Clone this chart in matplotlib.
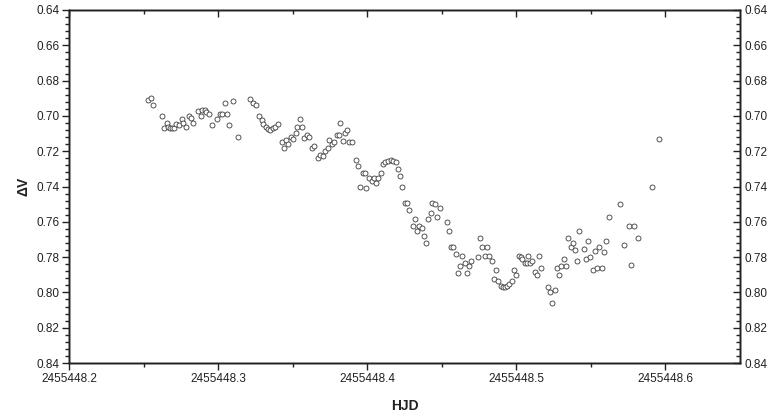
import matplotlib
matplotlib.use("Agg")
import matplotlib.pyplot as plt
from matplotlib.ticker import MultipleLocator, AutoMinorLocator, FormatStrFormatter

plt.rcParams['font.family'] = ['Liberation Sans', 'DejaVu Sans']

HJD0 = 2455448.0
# HJD offsets from 2455448.0
hjd_offset = [
    0.2530, 0.2553, 0.2564, 0.2624, 0.2654, 0.2637, 0.2664, 0.2680, 0.2691, 0.2704,
    0.2720, 0.2738, 0.2756, 0.2763, 0.2783, 0.2805, 0.2818, 0.2831, 0.2868, 0.2883,
    0.2890, 0.2910, 0.2921, 0.2938, 0.2957, 0.2995, 0.3010, 0.3028, 0.3043, 0.3059,
    0.3072, 0.3102, 0.3135, 0.3211, 0.3233, 0.3253, 0.3271, 0.3291, 0.3304, 0.3318,
    0.3333, 0.3349, 0.3367, 0.3383, 0.3400, 0.3429, 0.3445, 0.3456, 0.3472, 0.3490,
    0.3505, 0.3523, 0.3530, 0.3552, 0.3563, 0.3579, 0.3594, 0.3607, 0.3627, 0.3645,
    0.3672, 0.3686, 0.3701, 0.3717, 0.3734, 0.3746, 0.3761, 0.3779, 0.3795, 0.3808,
    0.3819, 0.3839, 0.3853, 0.3864, 0.3880, 0.3895, 0.3924, 0.3940, 0.3953, 0.3973,
    0.3987, 0.3995, 0.4013, 0.4029, 0.4047, 0.4058, 0.4074, 0.4092, 0.4104, 0.4120,
    0.4137, 0.4157, 0.4174, 0.4191, 0.4207, 0.4221, 0.4236, 0.4252, 0.4266, 0.4281,
    0.4308, 0.4321, 0.4336, 0.4348, 0.4366, 0.4381, 0.4395, 0.4410, 0.4426, 0.4437,
    0.4455, 0.4470, 0.4486, 0.4532, 0.4549, 0.4564, 0.4575, 0.4593, 0.4609, 0.4622,
    0.4637, 0.4654, 0.4667, 0.4682, 0.4699, 0.4744, 0.4759, 0.4771, 0.4789, 0.4805,
    0.4818, 0.4834, 0.4849, 0.4863, 0.4876, 0.4894, 0.4908, 0.4923, 0.4938, 0.4953,
    0.4970, 0.4987, 0.4999, 0.5017, 0.5028, 0.5041, 0.5056, 0.5072, 0.5077, 0.5090,
    0.5108, 0.5126, 0.5139, 0.5151, 0.5166, 0.5212, 0.5224, 0.5241, 0.5256, 0.5272,
    0.5288, 0.5301, 0.5318, 0.5334, 0.5346, 0.5365, 0.5378, 0.5391, 0.5407, 0.5423,
    0.5454, 0.5468, 0.5482, 0.5497, 0.5514, 0.5528, 0.5543, 0.5557, 0.5574, 0.5589,
    0.5604, 0.5619, 0.5694, 0.5724, 0.5756, 0.5771, 0.5786, 0.5814, 0.5908, 0.5960,
]
delta_v = [
    0.6908, 0.6899, 0.6940, 0.7001, 0.7040, 0.7067, 0.7061, 0.7067, 0.7070, 0.7067,
    0.7048, 0.7052, 0.7019, 0.7042, 0.7061, 0.7001, 0.7012, 0.7039, 0.6971, 0.7001,
    0.6968, 0.6967, 0.6976, 0.6989, 0.7050, 0.7018, 0.6989, 0.6989, 0.6929, 0.6989,
    0.7050, 0.6917, 0.7118, 0.6906, 0.6929, 0.6940, 0.7001, 0.7025, 0.7044, 0.7061,
    0.7074, 0.7080, 0.7067, 0.7061, 0.7048, 0.7146, 0.7180, 0.7137, 0.7161, 0.7118,
    0.7131, 0.7099, 0.7061, 0.7018, 0.7061, 0.7127, 0.7108, 0.7120, 0.7180, 0.7169,
    0.7240, 0.7222, 0.7229, 0.7199, 0.7180, 0.7137, 0.7159, 0.7150, 0.7108, 0.7108,
    0.7039, 0.7142, 0.7099, 0.7080, 0.7150, 0.7150, 0.7250, 0.7282, 0.7401, 0.7325,
    0.7322, 0.7410, 0.7350, 0.7367, 0.7354, 0.7382, 0.7350, 0.7322, 0.7270, 0.7261,
    0.7256, 0.7252, 0.7258, 0.7261, 0.7303, 0.7341, 0.7401, 0.7492, 0.7492, 0.7533,
    0.7622, 0.7582, 0.7652, 0.7622, 0.7633, 0.7680, 0.7722, 0.7582, 0.7552, 0.7492,
    0.7499, 0.7571, 0.7524, 0.7601, 0.7652, 0.7741, 0.7741, 0.7780, 0.7892, 0.7850,
    0.7794, 0.7832, 0.7892, 0.7850, 0.7822, 0.7801, 0.7694, 0.7741, 0.7794, 0.7741,
    0.7794, 0.7822, 0.7922, 0.7873, 0.7934, 0.7961, 0.7969, 0.7968, 0.7962, 0.7952,
    0.7933, 0.7875, 0.7903, 0.7793, 0.7798, 0.7812, 0.7832, 0.7832, 0.7792, 0.7832,
    0.7822, 0.7883, 0.7903, 0.7792, 0.7863, 0.7972, 0.7996, 0.8062, 0.7984, 0.7863,
    0.7903, 0.7852, 0.7812, 0.7852, 0.7693, 0.7743, 0.7722, 0.7761, 0.7822, 0.7652,
    0.7752, 0.7813, 0.7710, 0.7801, 0.7873, 0.7763, 0.7863, 0.7742, 0.7863, 0.7773,
    0.7710, 0.7571, 0.7501, 0.7730, 0.7622, 0.7844, 0.7622, 0.7692, 0.7401, 0.7130,
]

x_ticks = [0.2, 0.3, 0.4, 0.5, 0.6]
y_ticks = [0.64, 0.66, 0.68, 0.70, 0.72, 0.74, 0.76, 0.78, 0.80, 0.82, 0.84]

hjd = [HJD0 + v for v in hjd_offset]

fig = plt.figure(figsize=(7.73, 4.18), dpi=100)
ax = fig.add_axes([69/773, 1 - 363/418, (740 - 69)/773, (363 - 10)/418])

ax.plot(hjd, delta_v, linestyle='none', marker='o', markersize=3.6,
        markerfacecolor='white', markeredgecolor='#3a3a3a', markeredgewidth=0.6)

ax.set_xlim(HJD0 + 0.2, HJD0 + 0.65)
ax.set_ylim(0.84, 0.64)

ax.set_xticks([HJD0 + t for t in x_ticks])
ax.set_xticklabels([f"{HJD0 + t:.1f}" for t in x_ticks])
ax.xaxis.set_minor_locator(MultipleLocator(0.05))
ax.set_yticks(y_ticks)
ax.yaxis.set_major_formatter(FormatStrFormatter('%.2f'))
ax.yaxis.set_minor_locator(AutoMinorLocator(5))

ax.tick_params(axis='both', which='major', direction='out', length=5, width=1,
               labelsize=8.5, colors='#222222')
ax.tick_params(axis='both', which='minor', direction='out', length=3, width=1, colors='#222222')
ax.tick_params(axis='x', pad=2)
ax.tick_params(axis='y', pad=2)

# right axis (ticks inward, labels)
axr = ax.twinx()
axr.set_ylim(ax.get_ylim())
axr.set_yticks(y_ticks)
axr.yaxis.set_major_formatter(FormatStrFormatter('%.2f'))
axr.yaxis.set_minor_locator(AutoMinorLocator(5))
axr.tick_params(axis='y', which='major', direction='in', length=5, width=1, labelsize=8.5,
                colors='#222222', pad=3)
axr.tick_params(axis='y', which='minor', direction='in', length=3, width=1, colors='#222222')

# top axis (ticks inward, no labels)
axt = ax.twiny()
axt.set_xlim(ax.get_xlim())
axt.set_xticks([HJD0 + t for t in x_ticks])
axt.xaxis.set_minor_locator(MultipleLocator(0.05))
axt.tick_params(axis='x', which='major', direction='in', length=5, width=1, labeltop=False,
                colors='#222222')
axt.tick_params(axis='x', which='minor', direction='in', length=3, width=1, colors='#222222')

for a in (ax, axr, axt):
    for s in a.spines.values():
        s.set_linewidth(1.0)
        s.set_color('#222222')

ax.set_xlabel('HJD', fontsize=10, fontweight='bold', labelpad=10, color='#222222')
ax.set_ylabel('ΔV', fontsize=10, fontweight='bold', labelpad=4, color='#222222')

fig.savefig('out.png', dpi=100)
